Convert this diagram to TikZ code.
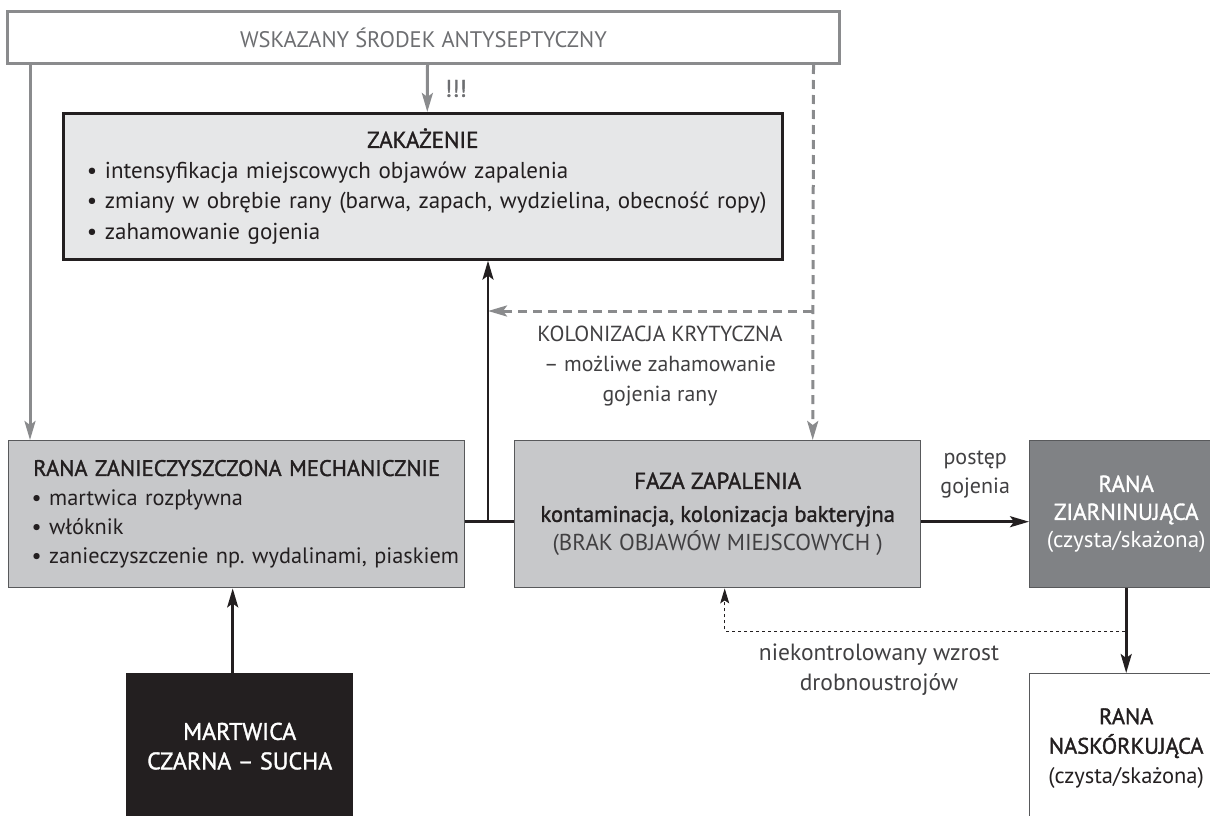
\documentclass[tikz,border=0pt]{standalone}
\usepackage{fontspec}
\setmainfont{PT Sans}
\newfontfamily\medfont[FakeBold=1.4]{PT Sans}
\frenchspacing
\usepackage{tikz}
\usetikzlibrary{positioning,arrows.meta}
\definecolor{inkblack}{HTML}{231F20}
\definecolor{softblack}{HTML}{414042}
\definecolor{framegray}{HTML}{8A8B8D}
\definecolor{headgray}{HTML}{6D6E71}
\definecolor{palegray}{HTML}{E6E7E8}
\definecolor{woundgray}{HTML}{C7C8CA}
\definecolor{granugray}{HTML}{808285}
\definecolor{edgegray}{HTML}{58595B}

\begin{document}
\begin{tikzpicture}[
		x=1pt,
		y=-1pt,
		>={Stealth[length=19pt,width=11pt,inset=4pt]},
		every node/.style={font=\fontsize{23}{29}\selectfont, text=inkblack, inner sep=0pt},
		woundbox/.style={draw=edgegray, line width=1.4pt, anchor=north west},
		grayline/.style={draw=framegray, line width=3pt},
		graydash/.style={draw=framegray, line width=3pt, dash pattern=on 9pt off 6pt},
		blackline/.style={draw=inkblack, line width=2.6pt},
		dotline/.style={draw=inkblack, line width=1pt, dash pattern=on 3.5pt off 2.5pt, >={Stealth[length=15pt,width=9pt,inset=3pt]}}
	]
		\useasboundingbox (0,0) rectangle (1210,816);
		\clip (0,0) rectangle (1210,816);

		\node[draw=framegray, line width=3pt, anchor=north west,
			minimum width=832, minimum height=52,
			font=\fontsize{22.5}{26}\selectfont, text=headgray]
			(head) at (6,10) {WSKAZANY ŚRODEK ANTYSEPTYCZNY};

		\node[draw=inkblack, fill=palegray, line width=2.6pt, anchor=north west,
			minimum width=719, minimum height=146, text width=672, align=left,
			font=\fontsize{23}{30.5}\selectfont]
			(zak) at (62,112) {%
				\makebox[672pt]{\medfont ZAKAŻENIE}\\
				• intensyfikacja miejscowych objawów zapalenia\\
				\mbox{• zmiany w obrębie rany (barwa, zapach, wydzielina, obecność ropy)}\\
				• zahamowanie gojenia};

		\node[woundbox, fill=woundgray, minimum width=456, minimum height=147,
			text width=410, align=left, font=\fontsize{22.3}{29.3}\selectfont]
			(rana) at (8,440) {%
				\makebox[410pt]{\medfont\fontsize{22.5}{29}\selectfont RANA ZANIECZYSZCZONA MECHANICZNIE}\\
				• martwica rozpływna\\
				• włóknik\\
				\mbox{• zanieczyszczenie np. wydalinami, piaskiem}};

		\node[woundbox, fill=woundgray, minimum width=406, minimum height=147,
			align=center, font=\fontsize{23}{33}\selectfont]
			(faza) at (514,440) {%
				{\medfont FAZA ZAPALENIA}\\
				{\medfont\fontsize{22.5}{33}\selectfont kontaminacja, kolonizacja bakteryjna}\\[-4pt]
				{\color{softblack}(BRAK OBJAWÓW MIEJSCOWYCH )}};

		\node[woundbox, fill=granugray, minimum width=193, minimum height=147,
			align=center, text=white, font=\fontsize{23}{28}\selectfont]
			(ziarn) at (1029,440) {%
				{\medfont RANA}\\
				{\medfont ZIARNINUJĄCA}\\
				(czysta/skażona)};

		\node[woundbox, fill=white, minimum width=193, minimum height=149,
			align=center, font=\fontsize{22.5}{29.5}\selectfont]
			(nask) at (1029,673) {%
				{\medfont RANA}\\
				{\medfont NASKÓRKUJĄCA}\\
				(czysta/skażona)};

		\node[woundbox, draw=inkblack, fill=inkblack, minimum width=226, minimum height=145,
			align=center, text=white, font=\fontsize{24}{29.5}\selectfont]
			(martw) at (126,673) {%
				{\medfont MARTWICA}\\
				{\medfont CZARNA – SUCHA}};

		\coordinate (split) at (488,521);
		\coordinate (kolon) at (812,311);
		\coordinate (drift) at (1125,631);

		\draw[grayline, ->] ([xshift=24]head.south west) -- ([xshift=22]rana.north west);
		\draw[grayline, ->] ([xshift=4]head.south) -- ([xshift=4.5]zak.north)
			node[midway, right=16pt, text=headgray, font=\medfont\fontsize{24}{24}\selectfont] {!!!};
		\draw[graydash, ->] ([xshift=390]head.south) -- ([xshift=95]faza.north);
		\draw[graydash, ->] (kolon) -- (kolon -| split);

		\node[align=center, text=softblack, font=\fontsize{21.8}{30}\selectfont]
			(kolonlabel) at (660,366) {KOLONIZACJA KRYTYCZNA\\– możliwe zahamowanie\\gojenia rany};

		\draw[blackline] ([yshift=-7.5]rana.east) -- ([yshift=-7.5]faza.west);
		\draw[blackline, ->] (split) -- (split |- zak.south);
		\draw[blackline, ->] ([yshift=-7.5]faza.east) -- ([yshift=-7.5]faza.east -| ziarn.west)
			node[midway, above=22pt, align=center, text=softblack, font=\fontsize{22}{29}\selectfont] {postęp\\gojenia};
		\draw[blackline, ->] (ziarn.south) -- (nask.north);
		\draw[blackline, ->] ([xshift=-7]martw.north) -- ([xshift=-7]martw.north |- rana.south);

		\draw[dotline, ->] (drift) -| ([xshift=7]faza.south);
		\node[align=center, text=softblack, font=\fontsize{23.5}{30}\selectfont]
			(driftlabel) at (879,670) {niekontrolowany wzrost\\drobnoustrojów};
	\end{tikzpicture}
\end{document}
